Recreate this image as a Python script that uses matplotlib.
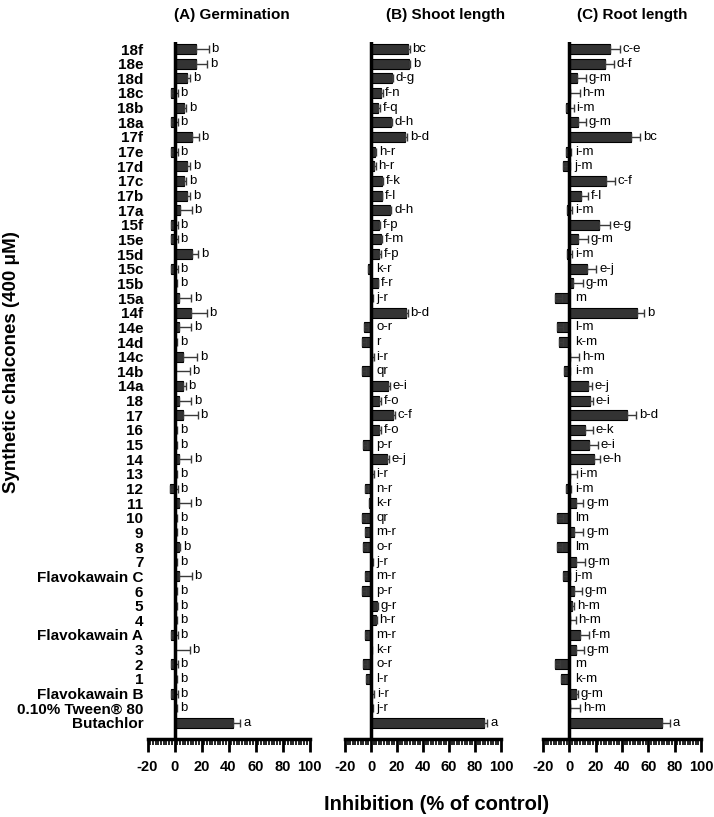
import numpy as np
import matplotlib
matplotlib.use("Agg")
import matplotlib.pyplot as plt
from matplotlib.ticker import MultipleLocator

plt.rcParams['font.family'] = ['Liberation Sans', 'DejaVu Sans']
plt.rcParams['axes.unicode_minus'] = False

cats = ['18f', '18e', '18d', '18c', '18b', '18a', '17f', '17e', '17d', '17c', '17b', '17a',
        '15f', '15e', '15d', '15c', '15b', '15a', '14f', '14e', '14d', '14c', '14b', '14a',
        '18', '17', '16', '15', '14', '13', '12', '11', '10', '9', '8', '7',
        'Flavokawain C', '6', '5', '4', 'Flavokawain A', '3', '2', '1',
        'Flavokawain B', '0.10% Tween® 80', 'Butachlor']

# (A) germination
germ = [15.8, 15.8, 9.6, -2.7, 6.7, -2.7, 12.8, -2.7, 9.6, 6.7, 9.6, 4.2,
        -2.7, -2.7, 12.6, -2.7, 0.3, 3.2, 12.3, 3.2, 0.3, 6.2, 0.3, 6.2,
        3.2, 6.2, 0.3, 0.3, 3.2, 0.3, -3.2, 3.2, 0.3, 0.3, 3.7, 0.3,
        3.7, 0.3, 0.3, 0.3, -2.7, 0.3, -2.7, 0.3, -2.7, 0.3, 43.0]
germ_err = [9.6, 8.6, 2, 5, 2, 5, 5, 5, 2, 2, 2, 8.6,
            5, 5, 5, 5, 1.5, 9, 11.5, 9, 1.5, 10.5, 11, 2,
            9, 11, 1.5, 1.5, 9, 1.5, 5.5, 9, 1.5, 1.5, 0.5, 1.5,
            9, 1.5, 1.5, 1.5, 5, 11, 5, 1.5, 5, 1.5, 5.7]
germ_let = ['b'] * 46 + ['a']

# (B) shoot length
shoot = [28.7, 29.2, 15.9, 7.4, 5.6, 15.1, 26.2, 3.1, 2.6, 8.2, 8.2, 14.6,
         6.2, 7.7, 6.4, -2.6, 5.1, 0.3, 26.7, -5.1, -7.2, 1.0, -7.2, 13.3,
         6.4, 17.2, 6.4, -5.9, 12.0, 1.0, -4.6, -1.5, -7.2, -4.6, -5.9, 0.5,
         -4.6, -6.7, 4.4, 3.8, -4.6, 0.3, -5.9, -4.1, 1.0, 0.5, 87.2]
shoot_err = [1, 1, 1, 1.5, 1.5, 1, 1.5, 1, 1, 1, 0.5, 1,
             1, 1, 1, 2, 0.5, 1, 1.5, 2.5, 3, 1, 3, 1,
             1, 1, 1, 3, 1.5, 1, 2, 1, 3, 2, 3, 1,
             2, 3, 1, 0.5, 2, 0.8, 3, 2, 1.5, 1, 2.3]
shoot_let = ['bc', 'b', 'd-g', 'f-n', 'f-q', 'd-h', 'b-d', 'h-r', 'h-r', 'f-k', 'f-l', 'd-h',
             'f-p', 'f-m', 'f-p', 'k-r', 'f-r', 'j-r', 'b-d', 'o-r', 'r', 'i-r', 'qr', 'e-i',
             'f-o', 'c-f', 'f-o', 'p-r', 'e-j', 'i-r', 'n-r', 'k-r', 'qr', 'm-r', 'o-r', 'j-r',
             'm-r', 'p-r', 'g-r', 'h-r', 'm-r', 'k-r', 'o-r', 'l-r', 'i-r', 'j-r', 'a']

# (C) root length
root = [30.7, 27.0, 5.5, 0.3, -2.8, 6.3, 46.6, -2.8, -4.5, 27.5, 8.8, -1.5,
        22.4, 6.3, -2.0, 13.1, 3.0, -10.8, 51.4, -9.0, -7.8, 0.3, -3.8, 14.4,
        15.6, 44.0, 11.8, 15.1, 18.6, 0.3, -2.5, 4.8, -9.0, 3.8, -9.6, 5.0,
        -4.5, 3.8, 2.3, 0.3, 8.0, 4.8, -10.8, -6.5, 4.8, 0.3, 70.3]
root_err = [7.6, 6.8, 6.8, 7.5, 6, 6, 7.3, 4, 5, 7, 5.5, 3.5,
            8.3, 7.5, 4, 7.5, 7.5, 5, 5.3, 4, 3, 7, 4, 2.5,
            2.5, 6.8, 6.3, 6.8, 4.5, 5.3, 3.5, 5.8, 4, 6.8, 4, 6.8,
            5, 5.5, 1.5, 4.5, 7, 6.5, 4, 3, 1.5, 8, 5.8]
root_let = ['c-e', 'd-f', 'g-m', 'h-m', 'i-m', 'g-m', 'bc', 'i-m', 'j-m', 'c-f', 'f-l', 'i-m',
            'e-g', 'g-m', 'i-m', 'e-j', 'g-m', 'm', 'b', 'l-m', 'k-m', 'h-m', 'i-m', 'e-j',
            'e-i', 'b-d', 'e-k', 'e-i', 'e-h', 'i-m', 'i-m', 'g-m', 'lm', 'g-m', 'lm', 'g-m',
            'j-m', 'g-m', 'h-m', 'h-m', 'f-m', 'g-m', 'm', 'k-m', 'g-m', 'h-m', 'a']

W, H = 714, 817
fig = plt.figure(figsize=(W / 100, H / 100), dpi=100)

panels = [
    ('(A) Germination', germ, germ_err, germ_let, 147.5, 309.5, 232),
    ('(B) Shoot length', shoot, shoot_err, shoot_let, 345, 501, 446),
    ('(C) Root length', root, root_err, root_let, 543, 701, 632),
]

y = np.arange(len(cats))
n = len(cats)
for i, (title, vals, errs, lets, left, right, tc) in enumerate(panels):
    ax = fig.add_axes([left / W, (H - 739) / H, (right - left) / W, (739 - 42) / H])
    ax.barh(y, vals, height=0.68, color='#333333', edgecolor='black', linewidth=0.8, zorder=2)
    ax.errorbar(vals, y, xerr=[np.zeros(n), errs], fmt='none', ecolor='#3a3a3a',
                elinewidth=1, capsize=3.2, capthick=1, zorder=3)
    ax.axvline(0, color='black', lw=2.5, zorder=4)
    for yi, v, e, t in zip(y, vals, errs, lets):
        ax.annotate(t, (max(v + e, 2), yi), xytext=(2, 0), textcoords='offset points',
                    va='center', ha='left', fontsize=9.5)

    ax.set_xlim(-20, 100)
    ax.set_ylim(47.1, -0.48)
    ax.xaxis.set_major_locator(MultipleLocator(20))
    ax.xaxis.set_minor_locator(MultipleLocator(2))
    for s in ['top', 'right', 'left']:
        ax.spines[s].set_visible(False)
    ax.spines['bottom'].set_linewidth(2.5)
    ax.tick_params(axis='x', which='major', length=9, width=2, pad=6, labelsize=10.5)
    ax.tick_params(axis='x', which='minor', length=4.5, width=1.2)
    for lbl in ax.get_xticklabels():
        lbl.set_fontweight('bold')

    ax.set_yticks(y)
    if i == 0:
        ax.set_yticklabels(cats, fontsize=11, fontweight='bold')
    else:
        ax.set_yticklabels([])
    ax.tick_params(axis='y', length=0, pad=3)

    fig.text(tc / W, 1 - 15 / H, title, ha='center', va='center', fontsize=11, fontweight='bold')

fig.text(12 / W, 1 - 362 / H, 'Synthetic chalcones (400 μM)', rotation=90,
         ha='center', va='center', fontsize=13.5, fontweight='bold')
fig.text(437 / W, 1 - 805 / H, 'Inhibition (% of control)', ha='center', va='center',
         fontsize=14.5, fontweight='bold')

fig.savefig('out.png', dpi=100)
